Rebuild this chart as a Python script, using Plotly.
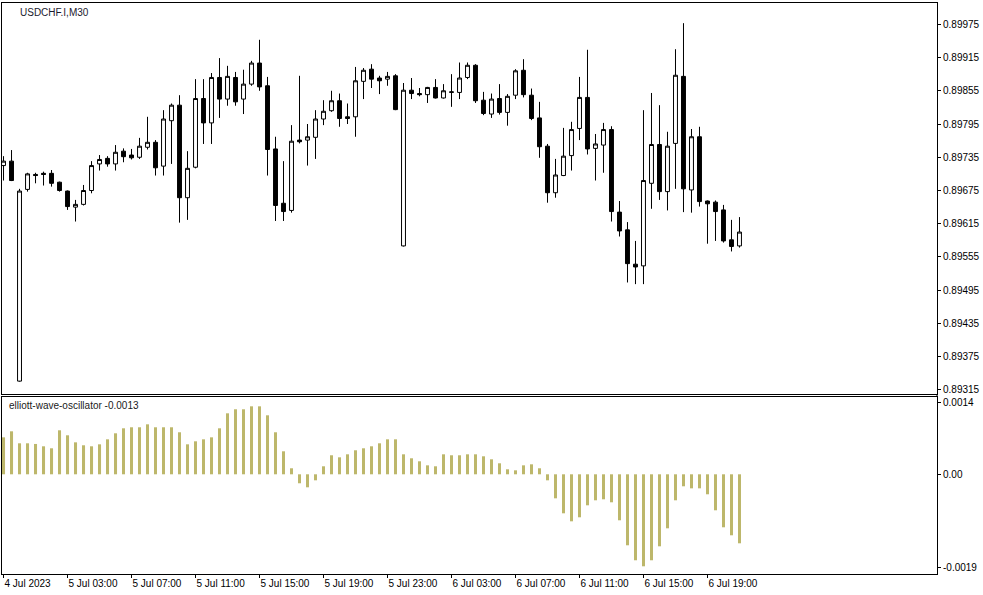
import plotly.graph_objects as go

# ---- data ----
opens = [0.89720, 0.89728, 0.89331, 0.89677, 0.89704, 0.89706, 0.89706, 0.89690, 0.89674, 0.89645,
         0.89650, 0.89675, 0.89723, 0.89733, 0.89723, 0.89746, 0.89739, 0.89735, 0.89753, 0.89762,
         0.89719, 0.89801, 0.89829, 0.89662, 0.89717, 0.89841, 0.89797, 0.89879, 0.89840, 0.89879,
         0.89840, 0.89867, 0.89905, 0.89864, 0.89750, 0.89652, 0.89639, 0.89766, 0.89766, 0.89771,
         0.89804, 0.89819, 0.89837, 0.89808, 0.89808, 0.89872, 0.89894, 0.89878, 0.89876, 0.89882,
         0.89575, 0.89856, 0.89850, 0.89848, 0.89861, 0.89842, 0.89852, 0.89852, 0.89879, 0.89901,
         0.89838, 0.89813, 0.89841, 0.89816, 0.89847, 0.89892, 0.89847, 0.89806, 0.89755, 0.89671,
         0.89702, 0.89738, 0.89787, 0.89843, 0.89751, 0.89757, 0.89785, 0.89636, 0.89604, 0.89542,
         0.89539, 0.89688, 0.89758, 0.89673, 0.89760, 0.89881, 0.89676, 0.89772, 0.89656, 0.89654,
         0.89640, 0.89586, 0.89575]
highs = [0.89737, 0.89748, 0.89678, 0.89707, 0.89707, 0.89709, 0.89712, 0.89691, 0.89675, 0.89658,
         0.89685, 0.89728, 0.89739, 0.89737, 0.89757, 0.89751, 0.89750, 0.89770, 0.89808, 0.89766,
         0.89820, 0.89832, 0.89847, 0.89746, 0.89876, 0.89876, 0.89887, 0.89914, 0.89900, 0.89889,
         0.89893, 0.89909, 0.89947, 0.89880, 0.89772, 0.89728, 0.89793, 0.89882, 0.89795, 0.89820,
         0.89838, 0.89855, 0.89850, 0.89832, 0.89898, 0.89896, 0.89903, 0.89882, 0.89889, 0.89885,
         0.89869, 0.89878, 0.89860, 0.89862, 0.89876, 0.89867, 0.89885, 0.89906, 0.89906, 0.89903,
         0.89853, 0.89850, 0.89867, 0.89849, 0.89894, 0.89912, 0.89859, 0.89835, 0.89759, 0.89732,
         0.89788, 0.89799, 0.89880, 0.89929, 0.89777, 0.89797, 0.89791, 0.89656, 0.89618, 0.89584,
         0.89820, 0.89851, 0.89829, 0.89781, 0.89930, 0.89977, 0.89786, 0.89790, 0.89657, 0.89657,
         0.89649, 0.89622, 0.89627]
lows = [0.89693, 0.89692, 0.89330, 0.89673, 0.89688, 0.89684, 0.89682, 0.89673, 0.89640, 0.89619,
        0.89648, 0.89670, 0.89711, 0.89718, 0.89711, 0.89726, 0.89731, 0.89732, 0.89749, 0.89702,
        0.89702, 0.89723, 0.89617, 0.89622, 0.89715, 0.89759, 0.89759, 0.89806, 0.89828, 0.89828,
        0.89813, 0.89864, 0.89855, 0.89702, 0.89620, 0.89620, 0.89635, 0.89760, 0.89720, 0.89732,
        0.89793, 0.89817, 0.89790, 0.89795, 0.89772, 0.89840, 0.89860, 0.89849, 0.89864, 0.89820,
        0.89574, 0.89840, 0.89845, 0.89833, 0.89841, 0.89841, 0.89826, 0.89840, 0.89876, 0.89833,
        0.89811, 0.89806, 0.89812, 0.89792, 0.89840, 0.89843, 0.89802, 0.89734, 0.89653, 0.89662,
        0.89701, 0.89711, 0.89766, 0.89740, 0.89693, 0.89707, 0.89619, 0.89592, 0.89509, 0.89506,
        0.89506, 0.89642, 0.89658, 0.89639, 0.89678, 0.89636, 0.89635, 0.89646, 0.89579, 0.89584,
        0.89581, 0.89565, 0.89572]
closes = [0.89728, 0.89693, 0.89674, 0.89705, 0.89702, 0.89704, 0.89688, 0.89675, 0.89646, 0.89650,
          0.89675, 0.89720, 0.89731, 0.89723, 0.89744, 0.89736, 0.89734, 0.89755, 0.89762, 0.89716,
          0.89804, 0.89829, 0.89662, 0.89715, 0.89841, 0.89797, 0.89879, 0.89840, 0.89881, 0.89835,
          0.89867, 0.89905, 0.89862, 0.89749, 0.89648, 0.89637, 0.89764, 0.89763, 0.89772, 0.89804,
          0.89818, 0.89837, 0.89805, 0.89805, 0.89873, 0.89892, 0.89876, 0.89873, 0.89881, 0.89821,
          0.89856, 0.89850, 0.89848, 0.89861, 0.89842, 0.89855, 0.89853, 0.89878, 0.89901, 0.89837,
          0.89814, 0.89840, 0.89816, 0.89845, 0.89891, 0.89848, 0.89805, 0.89754, 0.89671, 0.89703,
          0.89737, 0.89785, 0.89843, 0.89750, 0.89759, 0.89785, 0.89637, 0.89602, 0.89543, 0.89537,
          0.89693, 0.89758, 0.89673, 0.89755, 0.89883, 0.89678, 0.89772, 0.89655, 0.89651, 0.89637,
          0.89584, 0.89574, 0.89600]

ewo = [0.000725, 0.000843, 0.000608, 0.000608, 0.000595, 0.000549, 0.000510, 0.000863, 0.000765, 0.000627,
       0.000569, 0.000549, 0.000588, 0.000686, 0.000804, 0.000902, 0.000922, 0.000922, 0.000980, 0.000922,
       0.000922, 0.000922, 0.000824, 0.000588, 0.000647, 0.000686, 0.000725, 0.000902, 0.001196, 0.001275,
       0.001275, 0.001333, 0.001333, 0.001157, 0.000824, 0.000451, 0.000118, -0.000176, -0.000255, -0.000118,
       0.000157, 0.000373, 0.000333, 0.000392, 0.000471, 0.000510, 0.000549, 0.000608, 0.000686, 0.000686,
       0.000392, 0.000314, 0.000255, 0.000176, 0.000157, 0.000392, 0.000373, 0.000373, 0.000392, 0.000392,
       0.000353, 0.000294, 0.000216, 0.000098, 0.000078, 0.000176, 0.000196, 0.000118, -0.000118, -0.000471,
       -0.000765, -0.000922, -0.000843, -0.000608, -0.000510, -0.000490, -0.000549, -0.000902, -0.001392, -0.001686,
       -0.001804, -0.001686, -0.001412, -0.001059, -0.000510, -0.000235, -0.000275, -0.000275, -0.000392, -0.000706,
       -0.001039, -0.001196, -0.001353]

time_tick_idx = [0, 8, 16, 24, 32, 40, 48, 56, 64, 72, 80, 88]
time_tick_labels = ["4 Jul 2023", "5 Jul 03:00", "5 Jul 07:00", "5 Jul 11:00", "5 Jul 15:00",
                    "5 Jul 19:00", "5 Jul 23:00", "6 Jul 03:00", "6 Jul 07:00", "6 Jul 11:00",
                    "6 Jul 15:00", "6 Jul 19:00"]
price_ticks = [0.89315, 0.89375, 0.89435, 0.89495, 0.89555, 0.89615, 0.89675,
               0.89735, 0.89795, 0.89855, 0.89915, 0.89975]
ewo_tick_vals = [0.001406, 0.0, -0.00183]
ewo_tick_labels = ["0.0014", "0.00", "-0.0019"]

symbol_label = "USDCHF.I,M30"
ewo_label = "elliott-wave-oscillator -0.0013"

idx = list(range(len(opens)))

FONT = "Liberation Sans"
FS = 10
fig = go.Figure()
fig.add_trace(go.Candlestick(
    x=idx, open=opens, high=highs, low=lows, close=closes,
    increasing=dict(line=dict(color="black", width=1), fillcolor="white"),
    decreasing=dict(line=dict(color="black", width=1), fillcolor="black"),
    whiskerwidth=0, xaxis="x", yaxis="y", showlegend=False, hoverinfo="skip"))
fig.add_trace(go.Bar(
    x=idx, y=ewo, width=0.38, marker=dict(color="#BDB76B", line=dict(width=0)),
    xaxis="x2", yaxis="y2", showlegend=False, hoverinfo="skip"))

xr = [-0.19, 116.69]
fig.update_layout(
    width=983, height=595,
    margin=dict(l=2, r=46, t=3, b=21),
    paper_bgcolor="white", plot_bgcolor="white",
    font=dict(family=FONT, size=FS, color="black"),
    boxgap=0.3,
    xaxis=dict(domain=[0, 1], range=xr, anchor="y", matches="x2",
               showticklabels=False, ticks="", showgrid=False, zeroline=False,
               showline=True, linecolor="black", linewidth=1, mirror=True,
               rangeslider=dict(visible=False)),
    yaxis=dict(domain=[0.3152, 1], range=[0.893077, 0.900134], side="right",
               tickvals=price_ticks, ticktext=[f"{v:.5f}" for v in price_ticks],
               ticks="outside", ticklen=3, tickcolor="black",
               showgrid=False, zeroline=False, showline=True, linecolor="black",
               linewidth=1, mirror=True, tickfont=dict(family=FONT, size=FS)),
    xaxis2=dict(domain=[0, 1], range=xr, anchor="y2",
                tickvals=time_tick_idx, ticktext=time_tick_labels,
                ticks="outside", ticklen=3, tickcolor="black",
                ticklabelposition="outside right",
                showgrid=False, zeroline=False, showline=True, linecolor="black",
                linewidth=1, mirror=True, tickfont=dict(family=FONT, size=FS)),
    yaxis2=dict(domain=[0, 0.3100], range=[-0.001955, 0.001516], side="right",
                tickvals=ewo_tick_vals, ticktext=ewo_tick_labels,
                ticks="outside", ticklen=3, tickcolor="black",
                showgrid=False, zeroline=False, showline=True, linecolor="black",
                linewidth=1, mirror=True, tickfont=dict(family=FONT, size=FS)),
    shapes=[dict(type="line", xref="paper", yref="paper", x0=1, x1=1,
                 y0=0.3100, y1=0.3152, line=dict(color="black", width=1))],
    annotations=[
        dict(text=symbol_label, xref="paper", yref="paper", x=0.0175, y=1.0,
             xanchor="left", yanchor="top", yshift=-2, showarrow=False,
             font=dict(family=FONT, size=FS, color="#1a1a2e")),
        dict(text=ewo_label, xref="paper", yref="paper", x=0.0055, y=0.3100,
             xanchor="left", yanchor="top", yshift=-1, showarrow=False,
             font=dict(family=FONT, size=FS, color="#1a1a1a")),
    ],
)

fig.write_html("out.html", config={"displayModeBar": False},
               post_script="document.body.style.margin='0px';document.body.style.overflow='hidden';")
